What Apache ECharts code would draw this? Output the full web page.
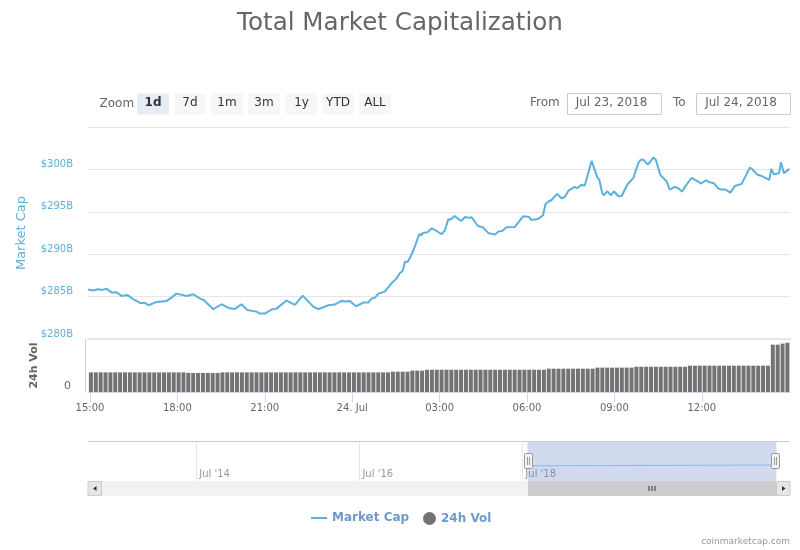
<![CDATA[<!DOCTYPE html>
<html>
<head>
<meta charset="utf-8">
<title>Total Market Capitalization</title>
<script src="https://cdn.jsdelivr.net/npm/echarts@6/dist/echarts.min.js"></script>
<style>
html, body { margin: 0; padding: 0; background: #fff; }
#chart { width: 800px; height: 550px; }
</style>
</head>
<body>
<div id="chart"></div>
<script>
// minutes after 15:00 on Jul 23, 2018
var capMinutes = [-4,6,16,26,34,45,55,65,77,89,103,113,121,137,158,168,178,199,213,226,235,254,271,285,299,312,324,343,350,360,374,384,405,422,438,460,470,491,504,518,528,535,548,563,573,580,587,594,607,621,631,
  638,644,649,654,660,667,678,683,686,695,704,714,724,731,738,743,751,764,773,780,786,799,810,820,834,842,849,858,875,892,904,909,923,933,938,945,950,962,971,978,985,998,1003,1012,1019,1033,1045,1049,1055,1058,1065,1073,1079,1088,1095,1107,1119,1129,1134,1139,1149,1160,1165,1175,1187,1194,1204,1211,1219,1228,1239,1243,1249,1259,1268,1276,1285,1294,1300,1309,1319,1328,1342,1359,1364,1374,1383,1399,1403,1408,1419,1423,1429,1440];
var capValues = [285.83,285.71,285.86,285.79,285.94,285.47,285.51,285.08,285.20,284.69,284.25,284.25,283.98,284.37,284.49,284.88,285.35,285.08,285.28,284.80,284.57,283.51,284.10,283.66,283.55,284.10,283.43,283.23,283.00,283.00,283.47,283.58,284.53,284.02,285.12,283.82,283.51,283.98,284.06,284.49,284.41,284.49,283.86,284.29,284.29,284.76,284.88,285.35,285.59,286.57,287.12,
  287.75,288.03,289.13,289.09,289.68,290.58,292.35,292.27,292.51,292.59,293.06,292.74,292.35,292.82,294.12,294.08,294.51,293.92,294.39,294.28,294.36,293.33,293.14,292.51,292.31,292.70,292.74,293.18,293.22,294.47,294.39,294.04,294.16,294.59,295.89,296.24,296.36,297.11,296.60,296.75,297.46,297.93,297.78,298.17,298.09,301.00,299.03,298.76,297.19,296.95,297.42,296.95,297.42,296.83,296.87,298.25,298.99,300.72,301.12,301.16,300.57,301.39,301.16,299.31,298.64,297.62,297.93,297.81,297.38,298.17,298.99,298.99,298.68,298.33,298.72,298.48,298.36,297.74,297.62,297.62,297.26,298.05,298.29,300.21,300.02,299.39,299.23,298.76,300.06,299.43,299.54,300.84,299.54,300.06];
// one bar every ten minutes, billions
var volValues = [11.1,11.1,11.1,11.1,11.1,11.1,11.1,11.1,11.1,11.1,11.1,11.1,11.1,11.1,11.1,11.1,11.1,11.1,11.1,11.1,10.8,10.8,10.8,10.8,10.8,10.8,10.8,11.1,11.1,11.1,11.1,11.1,11.1,11.1,11.1,11.1,11.1,11.1,11.1,11.1,11.1,11.1,11.1,11.1,11.1,11.1,11.1,11.1,11.1,11.1,11.1,11.1,11.1,11.1,11.1,11.1,11.1,11.1,11.1,11.1,11.1,11.1,
  11.5,11.5,11.5,11.5,12.1,12.1,12.1,12.6,12.6,12.6,12.6,12.6,12.6,12.6,12.6,12.6,12.6,12.6,12.6,12.6,12.6,12.6,12.6,12.6,12.6,12.6,12.6,12.6,12.6,12.6,12.6,12.6,13.2,13.2,13.2,13.2,13.2,13.2,13.2,13.2,13.2,13.2,13.8,13.8,13.8,13.8,13.8,13.8,13.8,13.8,14.3,14.3,14.3,14.3,14.3,14.3,14.3,14.3,14.3,14.3,14.3,14.9,14.9,14.9,14.9,14.9,14.9,14.9,14.9,14.9,14.9,14.9,14.9,14.9,14.9,14.9,14.9,14.9,26.8,26.8,27.4,27.9];
var tickMinutes = [0, 180, 360, 540, 720, 900, 1080, 1260];
var tickLabels = ["15:00", "18:00", "21:00", "24. Jul", "03:00", "06:00", "09:00", "12:00"];
var navTickDates = ["2014-07-01", "2016-07-01", "2018-07-01"];
var navTickLabels = ["Jul '14", "Jul '16", "Jul '18"];
var navDates = ["2018-07-24", "2020-01-15", "2021-08-12"];
var navValues = [285, 292, 300];
var zoomButtons = ["1d", "7d", "1m", "3m", "1y", "YTD", "ALL"];

var FONT = "'DejaVu Sans', sans-serif";
var BLUE = "#5cb0de";
var t0 = Date.UTC(2018, 6, 23, 15);
function toTime(m) { return t0 + m * 60000; }
function toDate(s) { return new Date(s + "T00:00:00Z").getTime(); }

var capData = capMinutes.map(function (m, i) { return [toTime(m), capValues[i]]; });
var volData = volValues.map(function (v, i) { return [toTime(2 + i * 10.03), v]; });
var navData = navDates.map(function (d, i) { return [toDate(d), navValues[i]]; });
var tickTimes = tickMinutes.map(toTime);
var navTicks = navTickDates.map(toDate);

// range selector, date boxes, navigator handles, scrollbar
var chrome = [];
function text(x, y, s, size, color, align, weight) {
    chrome.push({ type: "text", x: x, y: y, silent: true, z: 11, style: {
        text: s, fontFamily: FONT, fontSize: size, fill: color,
        align: align || "left", verticalAlign: "middle", fontWeight: weight || "normal"
    } });
}
function box(x, y, w, h, fill, stroke, r, z) {
    chrome.push({ type: "rect", silent: true, z: z || 10, shape: { x: x, y: y, width: w, height: h, r: r || 0 },
        style: { fill: fill, stroke: stroke || null, lineWidth: 1 } });
}
function seg(x1, y1, x2, y2, color) {
    chrome.push({ type: "line", silent: true, z: 13, shape: { x1: x1, y1: y1, x2: x2, y2: y2 },
        style: { stroke: color, lineWidth: 1 } });
}
function tri(points) {
    chrome.push({ type: "polygon", silent: true, z: 12, shape: { points: points }, style: { fill: "#333" } });
}

text(99.5, 104, "Zoom", 12, "#666");
var btnX = [137, 174, 211, 248, 285.5, 322, 359];
zoomButtons.forEach(function (b, i) {
    box(btnX[i], 93.5, 32, 21, i === 0 ? "#e6ebf5" : "#f7f7f7", null, 2);
    text(btnX[i] + 16, 103, b, 12, "#333", "center", i === 0 ? "bold" : "normal");
});
text(530, 103, "From", 12, "#666");
box(567.5, 93.5, 94, 21, "#fff", "#ccc");
text(611.5, 103, "Jul 23, 2018", 12, "#666", "center");
text(673, 103, "To", 12, "#666");
box(696.5, 93.5, 94, 21, "#fff", "#ccc");
text(741, 103, "Jul 24, 2018", 12, "#666", "center");

// scrollbar
box(101.5, 481, 675, 15, "#f2f2f2");
box(528, 481, 248, 15, "#ccc");
box(88, 481.5, 13.5, 14, "#e6e6e6", "#ccc");
box(776.5, 481.5, 13.5, 14, "#e6e6e6", "#ccc");
tri([[96.5, 486], [96.5, 491], [93, 488.5]]);
tri([[782, 486], [782, 491], [785.5, 488.5]]);
seg(649, 486, 649, 491, "#333");
seg(652, 486, 652, 491, "#333");
seg(655, 486, 655, 491, "#333");
// navigator top edge and handles
seg(88, 441.5, 790, 441.5, "#ccc");
[524.5, 771.5].forEach(function (x) {
    box(x, 453.5, 8, 15, "#f2f2f2", "#999", 1, 12);
    seg(x + 3, 457, x + 3, 465, "#999");
    seg(x + 5, 457, x + 5, 465, "#999");
});
text(790, 541.5, "coinmarketcap.com", 9, "#999", "right");

var chart = echarts.init(document.getElementById("chart"));
var option = {
    animation: false,
    backgroundColor: "#fff",
    textStyle: { fontFamily: FONT },
    title: {
        text: "Total Market Capitalization",
        left: "center",
        top: 6,
        textStyle: { color: "#666", fontFamily: FONT, fontSize: 24.6, fontWeight: "normal" }
    },
    legend: [{
        data: ["Market Cap"],
        left: 311,
        top: 512,
        padding: 0,
        icon: "rect",
        itemWidth: 16,
        itemHeight: 2,
        textStyle: { color: "#6c9bc9", fontFamily: FONT, fontSize: 12, fontWeight: "bold" }
    }, {
        data: ["24h Vol"],
        left: 423,
        top: 512,
        padding: 0,
        icon: "circle",
        itemWidth: 13,
        itemHeight: 13,
        textStyle: { color: "#6c9bc9", fontFamily: FONT, fontSize: 12, fontWeight: "bold" }
    }],
    grid: [
        { left: 88, right: 10, top: 127, height: 212 },
        { left: 88, right: 10, top: 339, height: 53 },
        { left: 88, right: 10, top: 441, height: 40 }
    ],
    xAxis: [{
        gridIndex: 0,
        type: "value",
        min: toTime(-4),
        max: toTime(1441.6),
        axisLine: { show: true, lineStyle: { color: "#e6e6e6", width: 2 } },
        axisTick: { show: false },
        axisLabel: { show: false },
        splitLine: { show: false }
    }, {
        gridIndex: 1,
        type: "value",
        min: toTime(-4),
        max: toTime(1441.6),
        axisLine: { show: true, lineStyle: { color: "#ccd6eb" } },
        axisTick: { show: true, length: 10, customValues: tickTimes, lineStyle: { color: "#ccd6eb" } },
        axisLabel: {
            customValues: tickTimes,
            color: "#666",
            fontSize: 10,
            margin: 11,
            hideOverlap: false,
            formatter: function (v) { return tickLabels[tickTimes.indexOf(v)]; }
        },
        splitLine: { show: false }
    }, {
        gridIndex: 2,
        type: "value",
        min: toDate("2013-03-03"),
        max: toDate("2021-10-12"),
        axisLine: { show: false },
        axisTick: { show: false, customValues: navTicks },
        axisLabel: {
            customValues: navTicks,
            inside: true,
            color: "#999",
            fontSize: 10,
            align: "left",
            margin: 2,
            padding: [0, 0, 0, 3],
            hideOverlap: false,
            formatter: function (v) { return navTickLabels[navTicks.indexOf(v)]; }
        },
        splitLine: { show: true, lineStyle: { color: "#e6e6e6" } }
    }],
    yAxis: [{
        gridIndex: 0,
        type: "value",
        min: 280,
        max: 305,
        interval: 5,
        name: "Market Cap",
        nameLocation: "middle",
        nameGap: 60,
        nameTextStyle: { color: BLUE, fontFamily: FONT, fontSize: 13 },
        axisLine: { show: false },
        axisTick: { show: false },
        axisLabel: {
            color: BLUE,
            fontSize: 10,
            margin: 15,
            verticalAlign: "bottom",
            showMaxLabel: false,
            formatter: function (v) { return "$" + v + "B"; }
        },
        splitLine: { lineStyle: { color: "#e6e6e6" } }
    }, {
        gridIndex: 1,
        type: "value",
        min: 0,
        max: 30,
        interval: 30,
        offset: 3,
        name: "24h Vol",
        nameLocation: "middle",
        nameGap: 45,
        nameTextStyle: { color: "#666", fontFamily: FONT, fontSize: 11, fontWeight: "bold" },
        axisLine: { show: true, lineStyle: { color: "#ccd6eb" } },
        axisTick: { show: false },
        axisLabel: {
            color: "#666",
            fontSize: 11,
            margin: 14,
            verticalAlign: "bottom",
            showMaxLabel: false
        },
        splitLine: { show: false }
    }, {
        gridIndex: 2,
        type: "value",
        min: 0,
        max: 750,
        show: false
    }],
    series: [{
        name: "Market Cap",
        type: "line",
        xAxisIndex: 0,
        yAxisIndex: 0,
        data: capData,
        showSymbol: false,
        itemStyle: { color: BLUE },
        lineStyle: { color: BLUE, width: 2 }
    }, {
        name: "24h Vol",
        type: "bar",
        xAxisIndex: 1,
        yAxisIndex: 1,
        data: volData,
        barWidth: 4,
        itemStyle: { color: "#737373" }
    }, {
        name: "navigator",
        type: "line",
        xAxisIndex: 2,
        yAxisIndex: 2,
        data: navData,
        showSymbol: false,
        lineStyle: { color: "#8fb9e0", width: 1 },
        markArea: {
            silent: true,
            itemStyle: { color: "rgba(102,133,194,0.3)" },
            data: [[{ xAxis: navData[0][0] }, { xAxis: navData[navData.length - 1][0] }]]
        }
    }],
    graphic: chrome
};
chart.setOption(option);
window.addEventListener("resize", chart.resize);
</script>
</body>
</html>
]]>
